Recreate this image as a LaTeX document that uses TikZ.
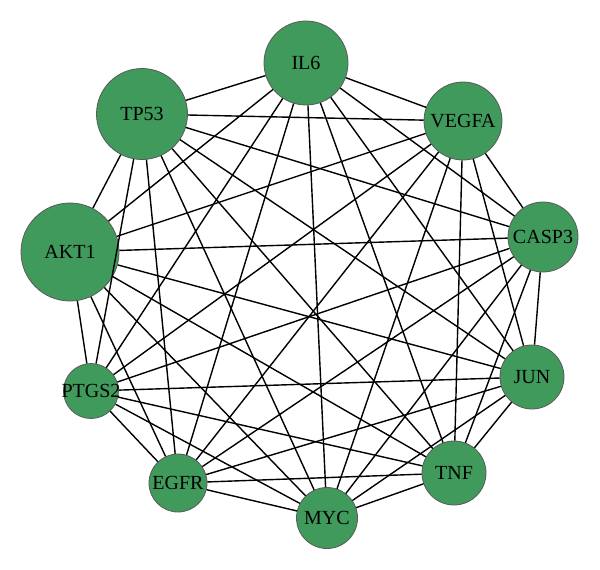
\documentclass[tikz,border=0pt]{standalone}
\usepackage{fontspec}
\setmainfont{Liberation Serif}
\definecolor{genegreen}{HTML}{3F9A5C}
\definecolor{generim}{HTML}{5A5A5A}
\begin{document}
\begin{tikzpicture}[x=1pt,y=-1pt,
  gene/.style={circle,fill=genegreen,draw=generim,line width=0.8pt,inner sep=0pt},
  genetext/.style={font=\fontsize{20}{20}\selectfont,text=black},
  link/.style={line width=1.4pt,black}]
\useasboundingbox (0,0) rectangle (600,570);
\node[gene,minimum size=84pt,label={[genetext]center:IL6}] (IL6) at (306,63) {};
\node[gene,minimum size=91pt,label={[genetext]center:TP53}] (TP53) at (142,114) {};
\node[gene,minimum size=78pt,label={[genetext]center:VEGFA}] (VEGFA) at (463,121) {};
\node[gene,minimum size=98pt,label={[genetext]center:AKT1}] (AKT1) at (70,252) {};
\node[gene,minimum size=70pt,label={[genetext]center:CASP3}] (CASP3) at (543,237) {};
\node[gene,minimum size=55pt,label={[genetext]center:PTGS2}] (PTGS2) at (91,391) {};
\node[gene,minimum size=64pt,label={[genetext]center:JUN}] (JUN) at (532,377) {};
\node[gene,minimum size=58pt,label={[genetext]center:EGFR}] (EGFR) at (178,483) {};
\node[gene,minimum size=64pt,label={[genetext]center:TNF}] (TNF) at (454,473) {};
\node[gene,minimum size=61pt,label={[genetext]center:MYC}] (MYC) at (327,518) {};
\foreach \a/\blist in {IL6/{TP53,VEGFA,AKT1,CASP3,PTGS2,JUN,EGFR,TNF,MYC},
  TP53/{VEGFA,AKT1,CASP3,PTGS2,JUN,EGFR,TNF,MYC},
  VEGFA/{AKT1,CASP3,PTGS2,JUN,EGFR,TNF,MYC},
  AKT1/{CASP3,PTGS2,JUN,EGFR,TNF,MYC},
  CASP3/{PTGS2,JUN,EGFR,TNF,MYC},
  PTGS2/{JUN,EGFR,TNF,MYC},
  JUN/{EGFR,TNF,MYC},
  EGFR/{TNF,MYC},
  TNF/{MYC}}
  {\foreach \b in \blist {\draw[link] (\a) -- (\b);}}
\end{tikzpicture}
\end{document}
